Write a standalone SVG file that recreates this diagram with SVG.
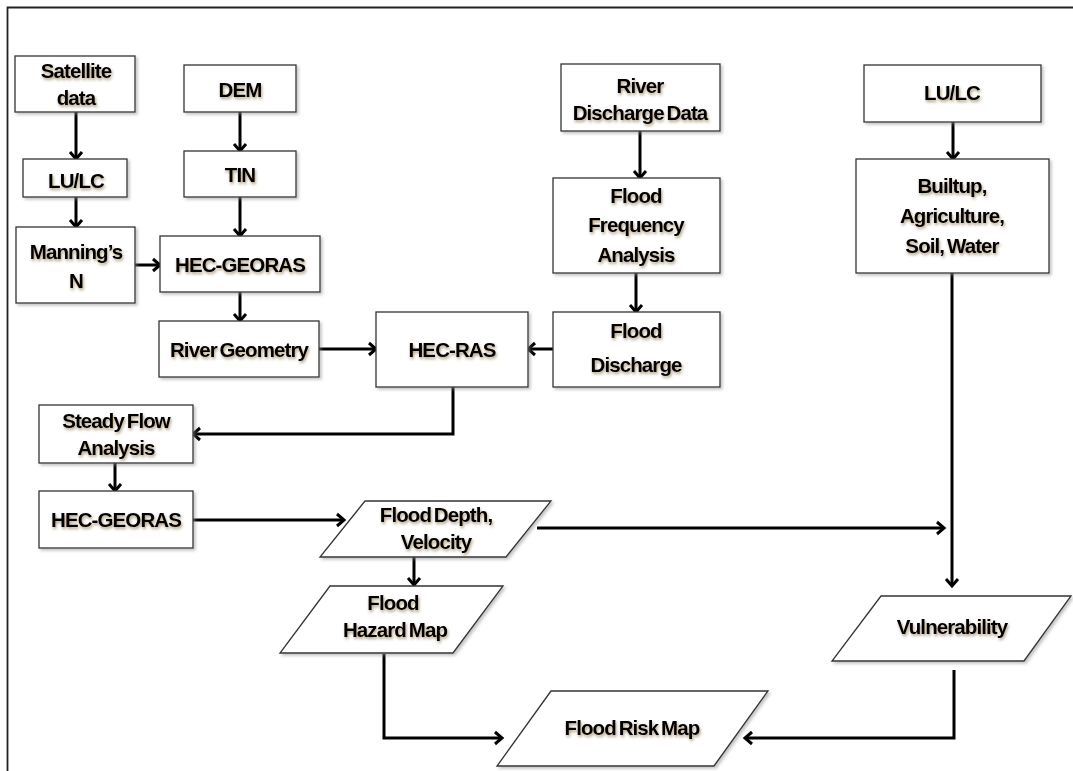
<svg xmlns="http://www.w3.org/2000/svg" width="1073" height="771" viewBox="0 0 1073 771">
<defs>
<style>
.b{fill:#fff;stroke:#333;stroke-width:1.3}
.t{font-family:"Liberation Sans",Arial,sans-serif;font-weight:bold;font-size:20.5px;letter-spacing:-0.9px;word-spacing:-2px;text-anchor:middle;fill:#000}
.c{fill:none;stroke:#000;stroke-width:3;marker-end:url(#a)}
</style>
<marker id="a" markerUnits="userSpaceOnUse" markerWidth="14" markerHeight="16" refX="9" refY="7" orient="auto" overflow="visible">
<path d="M2,1 L9,7 L2,13" fill="none" stroke="#000" stroke-width="3"/>
</marker>
<filter id="sh" x="-10%" y="-10%" width="130%" height="130%">
<feDropShadow dx="2" dy="2" stdDeviation="1.5" flood-color="#888" flood-opacity="0.5"/>
</filter>
<filter id="gl" x="-10%" y="-30%" width="120%" height="160%">
<feGaussianBlur in="SourceAlpha" stdDeviation="1.5" result="b"/>
<feOffset in="b" dx="1" dy="1.5" result="o"/>
<feFlood flood-color="#5a3a08" flood-opacity="0.5"/>
<feComposite in2="o" operator="in" result="s"/>
<feMerge><feMergeNode in="s"/><feMergeNode in="SourceGraphic"/></feMerge>
</filter>
</defs>
<rect width="1073" height="771" fill="#fff"/>
<path d="M7.5,771 V7.5 H1073" fill="none" stroke="#222" stroke-width="1.8"/>

<g id="connectors">
<path class="c" d="M76,112 V159"/>
<path class="c" d="M76,197 V227"/>
<path class="c" d="M240,112 V151"/>
<path class="c" d="M240,197 V236"/>
<path class="c" d="M135,265 H160"/>
<path class="c" d="M240,292 V321"/>
<path class="c" d="M319,349 H376"/>
<path class="c" d="M553,349 H528"/>
<path class="c" d="M640,131 V178"/>
<path class="c" d="M636,273 V312"/>
<path class="c" d="M953,122 V159"/>
<path class="c" d="M453,387 V434 H193"/>
<path class="c" d="M115,463 V491"/>
<path class="c" d="M193,520 H344"/>
<path class="c" d="M537,528 H944"/>
<path class="c" d="M952,273 V586"/>
<path class="c" d="M414,557 V585"/>
<path class="c" d="M384,654 V738 H502"/>
<path class="c" d="M954,670 V738 H745"/>
</g>

<g id="satellite" filter="url(#sh)"><rect class="b" x="15" y="56" width="120" height="56"/></g>
<g filter="url(#gl)"><text class="t" x="76" y="78">Satellite</text><text class="t" x="76" y="105">data</text></g>

<g id="dem" filter="url(#sh)"><rect class="b" x="184" y="65" width="112" height="47"/></g>
<g filter="url(#gl)"><text class="t" x="240" y="97">DEM</text></g>

<g id="lulc1" filter="url(#sh)"><rect class="b" x="23" y="159" width="104" height="38"/></g>
<g filter="url(#gl)"><text class="t" x="76" y="188">LU/LC</text></g>

<g id="tin" filter="url(#sh)"><rect class="b" x="184" y="151" width="112" height="46"/></g>
<g filter="url(#gl)"><text class="t" x="240" y="182">TIN</text></g>

<g id="manning" filter="url(#sh)"><rect class="b" x="16" y="227" width="119" height="76"/></g>
<g filter="url(#gl)"><text class="t" x="76" y="259">Manning’s</text><text class="t" x="76" y="288">N</text></g>

<g id="hecgeoras1" filter="url(#sh)"><rect class="b" x="160" y="236" width="160" height="56"/></g>
<g filter="url(#gl)"><text class="t" x="240" y="272">HEC-GEORAS</text></g>

<g id="rivergeom" filter="url(#sh)"><rect class="b" x="159" y="321" width="160" height="56"/></g>
<g filter="url(#gl)"><text class="t" x="239" y="357">River Geometry</text></g>

<g id="hecras" filter="url(#sh)"><rect class="b" x="376" y="312" width="152" height="75"/></g>
<g filter="url(#gl)"><text class="t" x="452" y="357">HEC-RAS</text></g>

<g id="riverdischarge" filter="url(#sh)"><rect class="b" x="561" y="64" width="159" height="67"/></g>
<g filter="url(#gl)"><text class="t" x="640" y="93">River</text><text class="t" x="640" y="120">Discharge Data</text></g>

<g id="ffa" filter="url(#sh)"><rect class="b" x="553" y="178" width="167" height="95"/></g>
<g filter="url(#gl)"><text class="t" x="636" y="203">Flood</text><text class="t" x="636" y="232">Frequency</text><text class="t" x="636" y="262">Analysis</text></g>

<g id="flooddischarge" filter="url(#sh)"><rect class="b" x="553" y="312" width="167" height="75"/></g>
<g filter="url(#gl)"><text class="t" x="636" y="338">Flood</text><text class="t" x="636" y="372">Discharge</text></g>

<g id="lulc2" filter="url(#sh)"><rect class="b" x="864" y="65" width="177" height="57"/></g>
<g filter="url(#gl)"><text class="t" x="952" y="100">LU/LC</text></g>

<g id="builtup" filter="url(#sh)"><rect class="b" x="856" y="159" width="193" height="114"/></g>
<g filter="url(#gl)"><text class="t" x="952" y="193">Builtup,</text><text class="t" x="952" y="223">Agriculture,</text><text class="t" x="952" y="253">Soil, Water</text></g>

<g id="steadyflow" filter="url(#sh)"><rect class="b" x="39" y="405" width="154" height="58"/></g>
<g filter="url(#gl)"><text class="t" x="116" y="428">Steady Flow</text><text class="t" x="116" y="455">Analysis</text></g>

<g id="hecgeoras2" filter="url(#sh)"><rect class="b" x="39" y="491" width="154" height="57"/></g>
<g filter="url(#gl)"><text class="t" x="116" y="527">HEC-GEORAS</text></g>

<g id="flooddepth" filter="url(#sh)"><polygon class="b" points="365,501 551,501 506,557 320,557"/></g>
<g filter="url(#gl)"><text class="t" x="436" y="522">Flood Depth,</text><text class="t" x="436" y="549">Velocity</text></g>

<g id="hazard" filter="url(#sh)"><polygon class="b" points="330,586 503,586 453,653 280,653"/></g>
<g filter="url(#gl)"><text class="t" x="393" y="610">Flood</text><text class="t" x="395" y="637">Hazard Map</text></g>

<g id="vulnerability" filter="url(#sh)"><polygon class="b" points="881,596 1071,596 1024,661 832,661"/></g>
<g filter="url(#gl)"><text class="t" x="952" y="634">Vulnerability</text></g>

<g id="risk" filter="url(#sh)"><polygon class="b" points="551,691 768,691 714,766 497,766"/></g>
<g filter="url(#gl)"><text class="t" x="632" y="735">Flood Risk Map</text></g>
</svg>
